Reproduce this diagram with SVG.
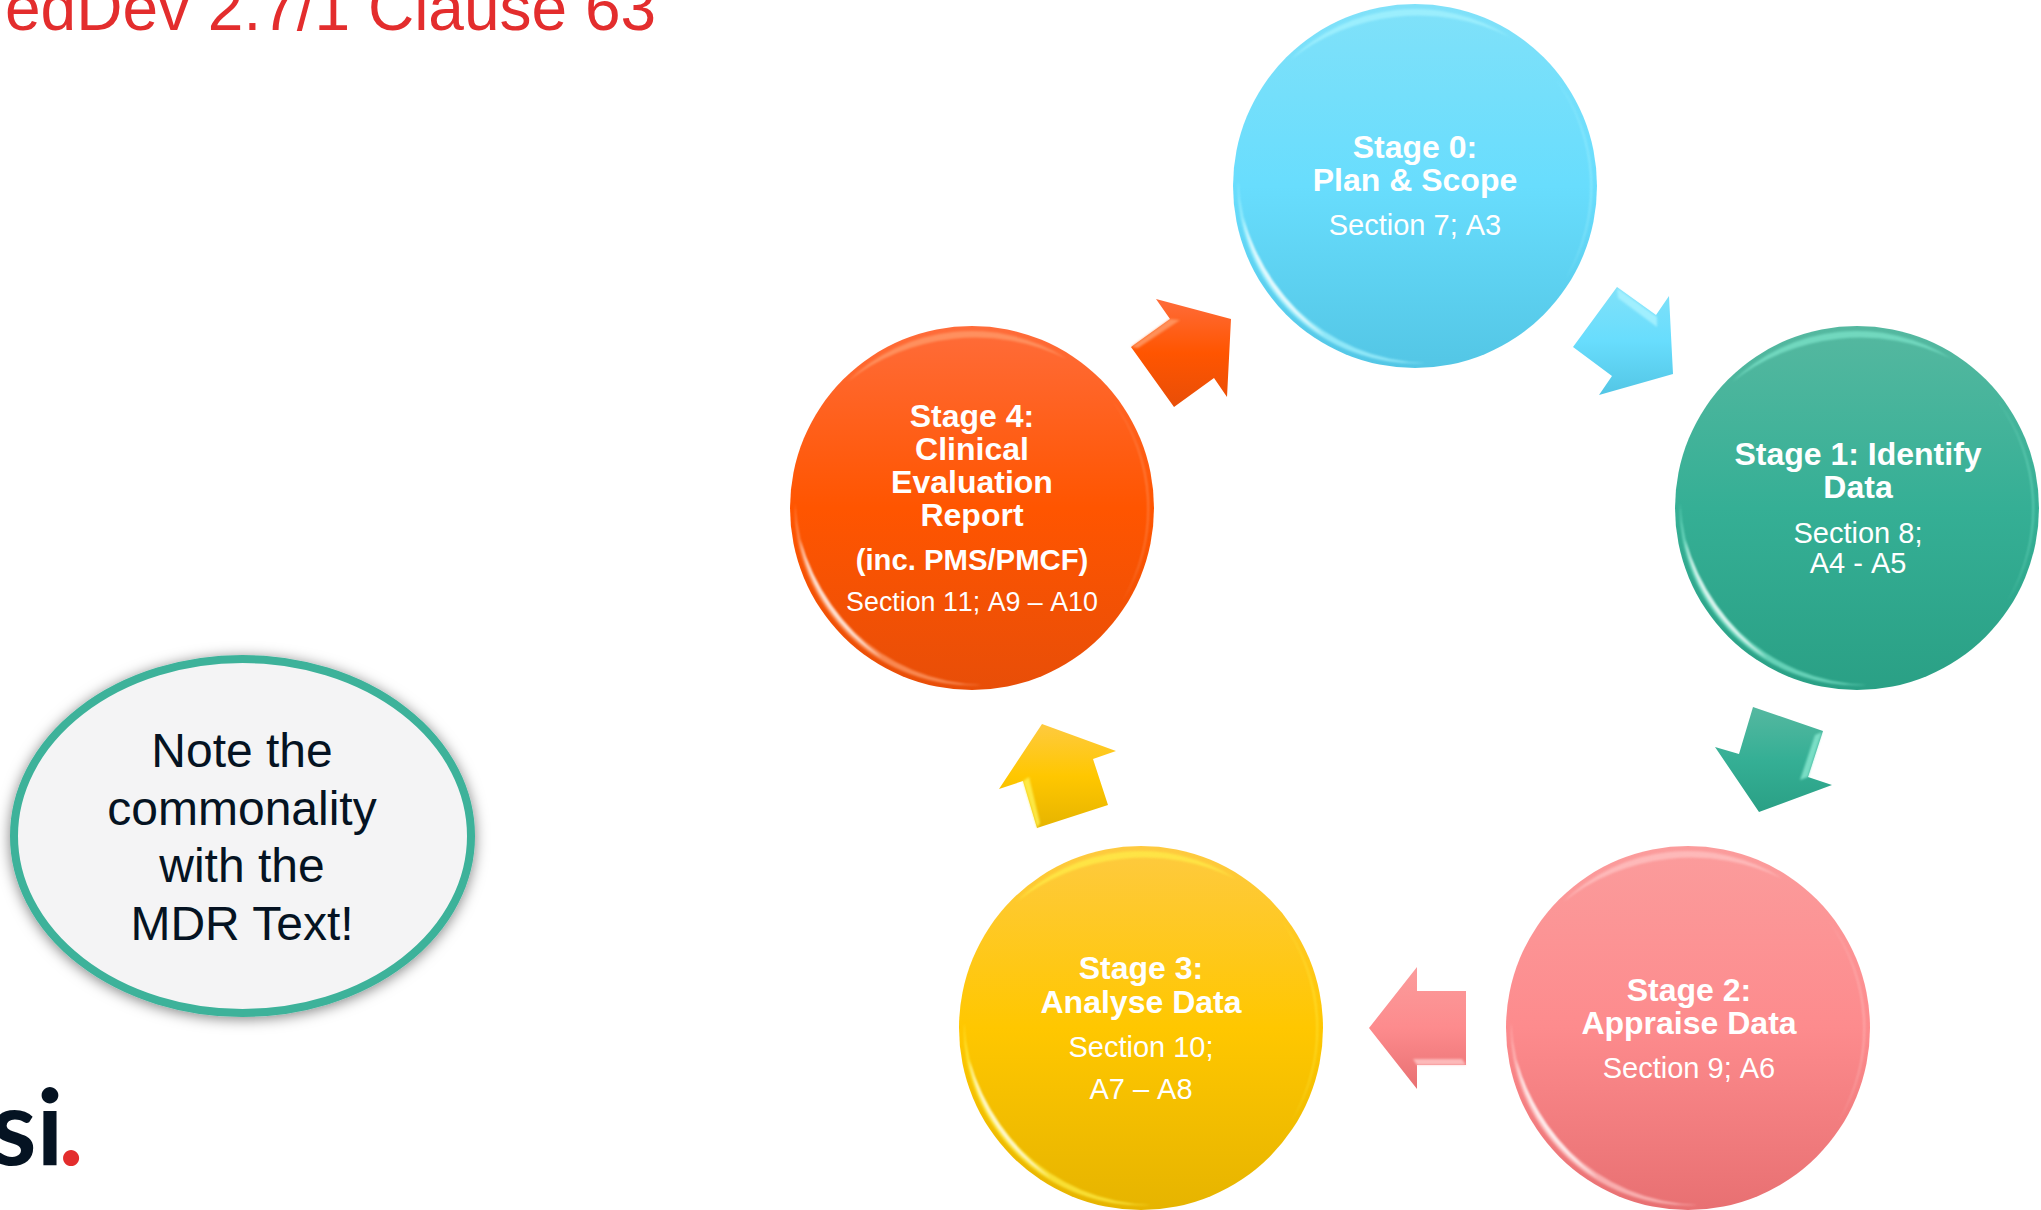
<svg xmlns="http://www.w3.org/2000/svg" xmlns:xlink="http://www.w3.org/1999/xlink" width="2041" height="1210" viewBox="0 0 2041 1210">
<style>
text{font-family:"Liberation Sans",Arial,sans-serif;text-anchor:middle}
.b{font-size:32px;font-weight:700;fill:#fff}
.r{font-size:29px;fill:#fff;font-kerning:none}
.n{font-size:48px;fill:#051322}
.hl{fill:currentColor;opacity:.7;filter:url(#soft)}
.wc{fill:#fff;opacity:.75;filter:url(#soft)}
.ah{opacity:.85;filter:url(#soft)}
</style>
<defs>
<filter id="soft" x="-30%" y="-30%" width="160%" height="160%"><feGaussianBlur stdDeviation="0.9"/></filter>
<filter id="shadow" x="-10%" y="-10%" width="120%" height="120%"><feDropShadow dx="0" dy="2" stdDeviation="7" flood-color="#000" flood-opacity=".5"/></filter>
<linearGradient id="g0" x1="0" y1="0" x2="0" y2="1"><stop offset="0" stop-color="#80E1F9"/><stop offset=".5" stop-color="#68DDFD"/><stop offset="1" stop-color="#53C6E5"/></linearGradient>
<linearGradient id="g1" x1="0" y1="0" x2="0" y2="1"><stop offset="0" stop-color="#55B8A0"/><stop offset=".5" stop-color="#35AF95"/><stop offset="1" stop-color="#2AA085"/></linearGradient>
<linearGradient id="g2" x1="0" y1="0" x2="0" y2="1"><stop offset="0" stop-color="#FB9C9C"/><stop offset=".5" stop-color="#FD8B8D"/><stop offset="1" stop-color="#E87072"/></linearGradient>
<linearGradient id="g3" x1="0" y1="0" x2="0" y2="1"><stop offset="0" stop-color="#FECA40"/><stop offset=".5" stop-color="#FFC700"/><stop offset="1" stop-color="#E6B400"/></linearGradient>
<linearGradient id="g4" x1="0" y1="0" x2="0" y2="1"><stop offset="0" stop-color="#FF6C3A"/><stop offset=".5" stop-color="#FF5500"/><stop offset="1" stop-color="#E84E08"/></linearGradient>
<g id="bevel">
<path class="hl" d="M-125,-126A177,177 0 0 1 95,-149A207,207 0 0 0 -125,-126Z"/>
<path class="hl" d="M-177,-5A177,177 0 0 0 10,177A192.5,192.5 0 0 1 -177,-5Z"/>
<path class="hl" d="M140,-108A177,177 0 0 1 150,94A183,183 0 0 0 140,-108Z"/>
<path class="wc" d="M-172,32A175,175 0 0 0 -90,150A232,232 0 0 1 -172,32Z"/>
</g>
</defs>
<rect width="2041" height="1210" fill="#fff"/>
<text id="title" x="5" y="30" style="text-anchor:start;font-size:64px;fill:#E32D2D">edDev 2.7/1 Clause 63</text>
<g id="connectors">
<g id="arrow-0-1"><polygon points="1617,287 1656,315 1669,296 1673,374 1599,395 1612,376 1573,347" fill="url(#g0)"/><polygon class="ah" fill="#A8F2FF" points="1617,288 1657,317 1657,327 1618,298"/></g>
<g id="arrow-1-2"><polygon points="1753,707 1823,731 1808,777 1832,785 1759,812 1715,747 1739,754" fill="url(#g1)"/><polygon class="ah" fill="#85E6CE" points="1822,732 1808,777 1800,780 1815,735"/></g>
<g id="arrow-2-3"><polygon points="1369,1028 1417,967 1417,991 1466,991 1466,1065 1417,1065 1417,1089" fill="url(#g2)"/><polygon class="ah" fill="#FFC4C4" points="1413,1059 1462,1059 1466,1065 1417,1065"/></g>
<g id="arrow-3-4"><polygon points="1042,724 1116,751 1093,759 1108,805 1037,828 1023,781 999,789" fill="url(#g3)"/><polygon class="ah" fill="#FFF050" points="1023,781 1037,828 1040,823 1029,777"/></g>
<g id="arrow-4-0"><polygon points="1156,299 1231,319 1227,397 1214,378 1174,407 1131,347 1170,319" fill="url(#g4)"/><polygon class="ah" fill="#FF9A66" points="1131,347 1170,319 1180,320 1138,348"/></g>
</g>
<g id="stage0"><circle cx="1415" cy="186" r="182" fill="url(#g0)"/><use xlink:href="#bevel" href="#bevel" x="1415" y="186" color="#A8F4FF"/>
<text class="b" x="1415" y="158">Stage 0:</text><text class="b" x="1415" y="191">Plan &amp; Scope</text><text class="r" x="1415" y="235">Section 7; A3</text></g>
<g id="stage1"><circle cx="1857" cy="508" r="182" fill="url(#g1)"/><use xlink:href="#bevel" href="#bevel" x="1857" y="508" color="#7FE6CC"/>
<text class="b" x="1858" y="465">Stage 1: Identify</text><text class="b" x="1858" y="498">Data</text><text class="r" x="1858" y="543">Section 8;</text><text class="r" x="1858" y="573">A4 - A5</text></g>
<g id="stage2"><circle cx="1688" cy="1028" r="182" fill="url(#g2)"/><use xlink:href="#bevel" href="#bevel" x="1688" y="1028" color="#FFC6C6"/>
<text class="b" x="1689" y="1001">Stage 2:</text><text class="b" x="1689" y="1034">Appraise Data</text><text class="r" x="1689" y="1078">Section 9; A6</text></g>
<g id="stage3"><circle cx="1141" cy="1028" r="182" fill="url(#g3)"/><use xlink:href="#bevel" href="#bevel" x="1141" y="1028" color="#FFF04A"/>
<text class="b" x="1141" y="979">Stage 3:</text><text class="b" x="1141" y="1013">Analyse Data</text><text class="r" x="1141" y="1057">Section 10;</text><text class="r" x="1141" y="1099">A7 – A8</text></g>
<g id="stage4"><circle cx="972" cy="508" r="182" fill="url(#g4)"/><use xlink:href="#bevel" href="#bevel" x="972" y="508" color="#FFA070"/>
<text class="b" x="972" y="427">Stage 4:</text><text class="b" x="972" y="460">Clinical</text><text class="b" x="972" y="493">Evaluation</text><text class="b" x="972" y="526">Report</text><text class="b" x="972" y="570" style="font-size:29.3px">(inc. PMS/PMCF)</text><text class="r" x="972" y="611" style="font-size:26.8px">Section 11; A9 – A10</text></g>
<g id="note"><ellipse cx="242.5" cy="836" rx="228.5" ry="177" fill="#F4F4F5" stroke="#3CB29A" stroke-width="8" filter="url(#shadow)"/>
<text class="n" x="242" y="767">Note the</text><text class="n" x="242" y="825">commonality</text><text class="n" x="242" y="882">with the</text><text class="n" x="242" y="940">MDR Text!</text></g>
<text id="logo" x="-10" y="1165" style="text-anchor:start;font-family:Lato,sans-serif;font-size:106px;font-weight:700;fill:#051322">si<tspan fill="#E32D2D" dx="-5">.</tspan></text>
</svg>
